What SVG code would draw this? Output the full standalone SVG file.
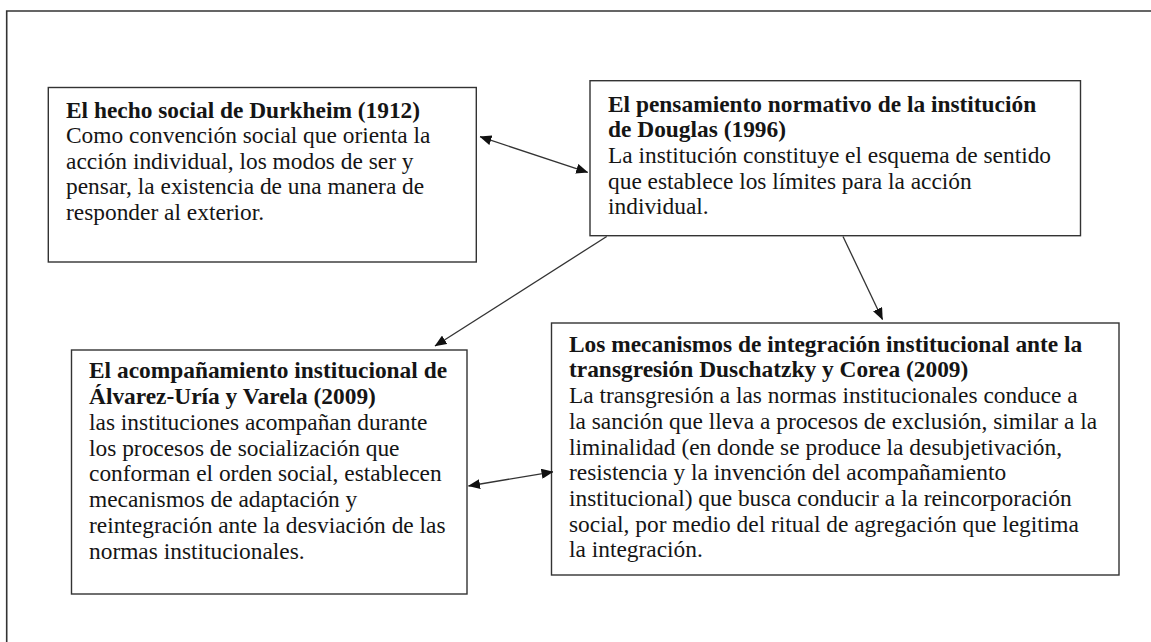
<svg xmlns="http://www.w3.org/2000/svg" width="1151" height="642" viewBox="0 0 1151 642">
<defs>
<style>
.box{fill:#fff;stroke:#333;stroke-width:1.4}
.t{font-family:"Liberation Serif","Times New Roman",serif;font-size:23.4px;fill:#151515}
.b{font-weight:bold}
.c{stroke:#333;stroke-width:1.3;fill:none}
</style>
<marker id="ah" viewBox="0 0 12 10" refX="11.5" refY="5" markerWidth="12" markerHeight="10" markerUnits="userSpaceOnUse" orient="auto-start-reverse">
<path d="M0,0 L12,5 L0,10 Z" fill="#111"/>
</marker>
</defs>
<rect width="1151" height="642" fill="#fff"/>
<path d="M6.7,642 V11 H1151" fill="none" stroke="#333" stroke-width="1.6"/>

<g id="node-durkheim">
<rect class="box" x="48.3" y="87.5" width="428" height="174.5"/>
<text class="t b" x="66" y="117.5">El hecho social de Durkheim (1912)</text>
<text class="t" x="66" y="143.1">Como convención social que orienta la</text>
<text class="t" x="66" y="168.7">acción individual, los modos de ser y</text>
<text class="t" x="66" y="194.3">pensar, la existencia de una manera de</text>
<text class="t" x="66" y="219.9">responder al exterior.</text>
</g>

<g id="node-douglas">
<rect class="box" x="590" y="80.7" width="490.5" height="155"/>
<text class="t b" x="608" y="111.7">El pensamiento normativo de la institución</text>
<text class="t b" x="608" y="137.3">de Douglas (1996)</text>
<text class="t" x="608" y="162.9">La institución constituye el esquema de sentido</text>
<text class="t" x="608" y="188.5">que establece los límites para la acción</text>
<text class="t" x="608" y="214.1">individual.</text>
</g>

<g id="node-alvarez">
<rect class="box" x="71.5" y="350" width="395.5" height="244"/>
<text class="t b" x="89" y="378.3">El acompañamiento institucional de</text>
<text class="t b" x="89" y="404">Álvarez-Uría y Varela (2009)</text>
<text class="t" x="89" y="429.8">las instituciones acompañan durante</text>
<text class="t" x="89" y="455.5">los procesos de socialización que</text>
<text class="t" x="89" y="481.3">conforman el orden social, establecen</text>
<text class="t" x="89" y="507.2">mecanismos de adaptación y</text>
<text class="t" x="89" y="533">reintegración ante la desviación de las</text>
<text class="t" x="89" y="558.8">normas institucionales.</text>
</g>

<g id="node-duschatzky">
<rect class="box" x="551.5" y="323" width="567.5" height="252"/>
<text class="t b" x="569" y="351.7">Los mecanismos de integración institucional ante la</text>
<text class="t b" x="569" y="377.4">transgresión Duschatzky y Corea (2009)</text>
<text class="t" x="569" y="403.1">La transgresión a las normas institucionales conduce a</text>
<text class="t" x="569" y="428.8">la sanción que lleva a procesos de exclusión, similar a la</text>
<text class="t" x="569" y="454.5">liminalidad (en donde se produce la desubjetivación,</text>
<text class="t" x="569" y="480.2">resistencia y la invención del acompañamiento</text>
<text class="t" x="569" y="505.9">institucional) que busca conducir a la reincorporación</text>
<text class="t" x="569" y="531.6">social, por medio del ritual de agregación que legitima</text>
<text class="t" x="569" y="557.3">la integración.</text>
</g>

<g id="connectors">
<line class="c" x1="480" y1="136.7" x2="587.7" y2="172.3" marker-start="url(#ah)" marker-end="url(#ah)"/>
<line class="c" x1="606.7" y1="236.5" x2="435" y2="346" marker-end="url(#ah)"/>
<line class="c" x1="843" y1="236.5" x2="882.5" y2="319.5" marker-end="url(#ah)"/>
<line class="c" x1="468.5" y1="486" x2="553" y2="471.8" marker-start="url(#ah)" marker-end="url(#ah)"/>
</g>
</svg>
